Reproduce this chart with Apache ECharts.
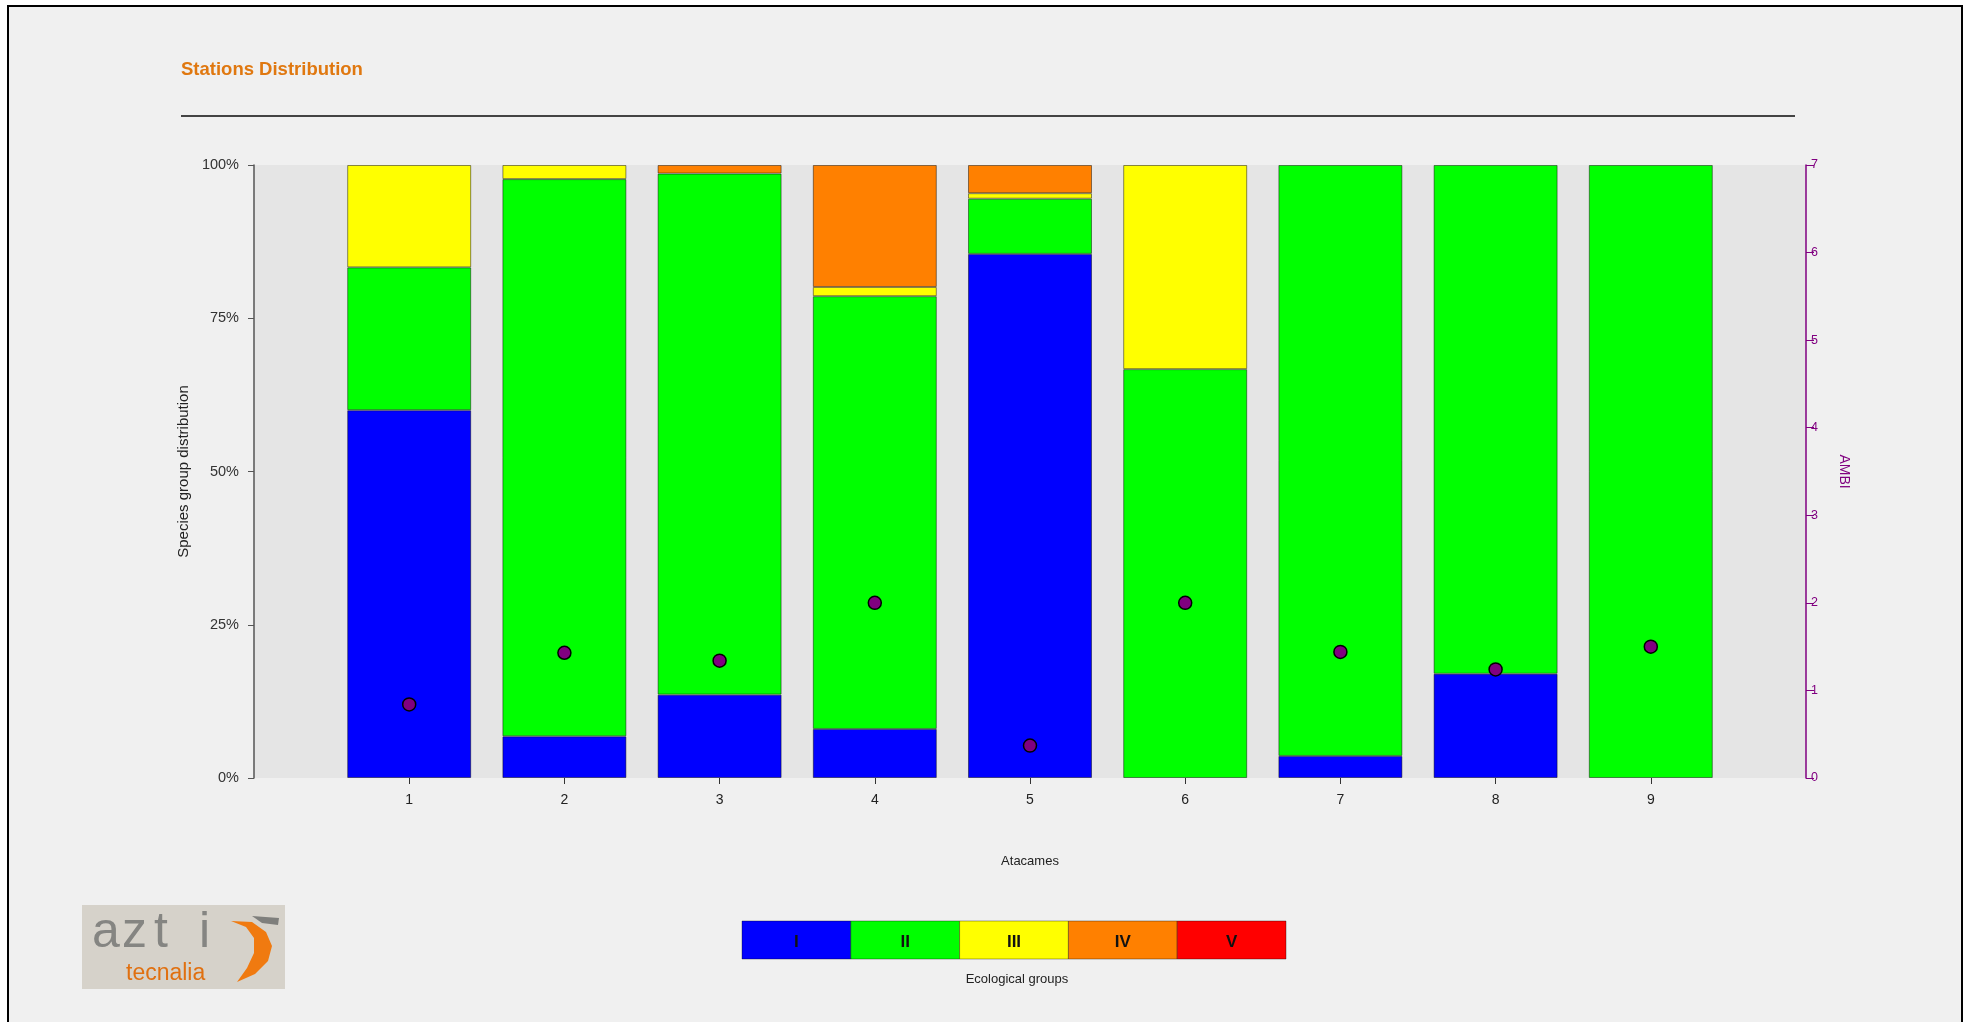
<!DOCTYPE html>
<html>
<head>
<meta charset="utf-8">
<script src="https://cdn.jsdelivr.net/npm/echarts@6/dist/echarts.min.js"></script>
<style>
  html, body { margin: 0; padding: 0; background: #fff; }
  #chart { width: 1971px; height: 1022px; }
</style>
</head>
<body>
<div id="chart"></div>
<script>
// 站点 1..9
var stations = ['1', '2', '3', '4', '5', '6', '7', '8', '9'];

// ecological groups, % of species per station
var groupI   = [60.0, 6.8, 13.6, 8.0, 85.5, 0, 3.6, 17.0, 0];
var groupII  = [23.3, 90.9, 85.0, 70.6, 9.0, 66.7, 96.4, 83.0, 100];
var groupIII = [16.7, 2.3, 0, 1.5, 0.9, 33.3, 0, 0, 0];
var groupIV  = [0, 0, 1.4, 19.9, 4.6, 0, 0, 0, 0];
var groupV   = [0, 0, 0, 0, 0, 0, 0, 0, 0];

// AMBI per station
var ambi = [0.84, 1.43, 1.34, 2.0, 0.37, 2.0, 1.44, 1.24, 1.5];

var groupNames  = ['I', 'II', 'III', 'IV', 'V'];
var groupColors = ['#0000ff', '#00ff00', '#ffff00', '#ff8000', '#ff0000'];
var yTicks = ['0%', '25%', '50%', '75%', '100%'];

var FONT = '"Liberation Sans", Arial, sans-serif';
var chart = echarts.init(document.getElementById('chart'));

// axis has an empty slot at each end
function pad(arr) {
  return ['-'].concat(arr).concat(['-']);
}
var axisCats = [''].concat(stations).concat(['']);

var groups = [groupI, groupII, groupIII, groupIV, groupV];
var series = groups.map(function (vals, i) {
  return {
    name: groupNames[i],
    type: 'bar',
    stack: 'eco',
    barWidth: 124,
    data: pad(vals.map(function (v) { return v === 0 ? '-' : v; })),
    itemStyle: { color: groupColors[i], borderColor: 'rgba(0,0,0,0.45)', borderWidth: 1 }
  };
});
series.push({
  name: 'AMBI',
  type: 'scatter',
  yAxisIndex: 1,
  symbolSize: 13,
  z: 5,
  data: pad(ambi),
  itemStyle: { color: '#800080', borderColor: '#000', borderWidth: 1.5, opacity: 1 }
});

// legend boxes
var legendEls = [];
var lx = 742, lw = 108.8;
groupNames.forEach(function (g, i) {
  legendEls.push({
    type: 'rect', shape: { x: lx + i * lw, y: 921, width: lw, height: 38 },
    style: { fill: groupColors[i], stroke: 'rgba(0,0,0,0.35)', lineWidth: 1 }
  });
  legendEls.push({
    type: 'text', x: lx + i * lw + lw / 2, y: 942,
    style: { text: g, font: 'bold 17px ' + FONT, fill: '#111', align: 'center', verticalAlign: 'middle' }
  });
});
legendEls.push({
  type: 'text', x: 1017, y: 979,
  style: { text: 'Ecological groups', font: '13px ' + FONT, fill: '#222', align: 'center', verticalAlign: 'middle' }
});

// logo letters
var logoEls = [{ type: 'rect', shape: { x: 82, y: 905, width: 203, height: 84 }, style: { fill: '#d6d2ca' } }];
[['a', 92], ['z', 122], ['t', 154], ['i', 199]].forEach(function (l) {
  logoEls.push({ type: 'text', x: l[1], y: 958, style: { text: l[0], font: '300 50px ' + FONT, fill: '#858582', verticalAlign: 'bottom' } });
});
logoEls.push({ type: 'text', x: 126, y: 974, style: { text: 'tecnalia', font: '23px ' + FONT, fill: '#e07010', verticalAlign: 'middle' } });
logoEls.push({
  type: 'polygon',
  shape: { points: [[231, 921], [252, 922], [266, 932], [272, 946], [268, 961], [255, 974], [237, 982], [247, 968], [254, 953], [254, 938], [246, 927]] },
  style: { fill: '#f07a10' }
});
logoEls.push({ type: 'polygon', shape: { points: [[252, 916], [279, 918], [278, 925], [262, 923]] }, style: { fill: '#7f7f7c' } });

var option = {
  backgroundColor: '#ffffff',
  animation: false,
  grid: {
    left: 254, right: 165, top: 165, bottom: 244,
    show: true, backgroundColor: '#e5e5e5', borderWidth: 0
  },
  xAxis: {
    type: 'category',
    data: axisCats,
    boundaryGap: false,
    name: 'Atacames',
    nameLocation: 'middle',
    nameGap: 77,
    nameTextStyle: { fontFamily: FONT, fontSize: 13, color: '#222' },
    axisLine: { show: false },
    axisTick: {
      show: true, length: 6,
      interval: function (idx, val) { return val !== ''; },
      lineStyle: { color: '#333' }
    },
    axisLabel: {
      interval: 0, margin: 15,
      fontFamily: FONT, fontSize: 14, color: '#222'
    },
    splitLine: { show: false }
  },
  yAxis: [{
    type: 'value',
    min: 0, max: 100, interval: 25,
    name: 'Species group distribution',
    nameLocation: 'middle',
    nameRotate: 90,
    nameGap: 63,
    nameTextStyle: { fontFamily: FONT, fontSize: 15, color: '#222' },
    axisLine: { show: true, lineStyle: { color: '#555', width: 1.5 } },
    axisTick: { show: true, length: 6, lineStyle: { color: '#555' } },
    axisLabel: {
      margin: 15, fontFamily: FONT, fontSize: 14.5, color: '#333',
      formatter: function (v) { return yTicks[v / 25]; }
    },
    splitLine: { show: false }
  }, {
    type: 'value',
    position: 'right',
    min: 0, max: 7, interval: 1,
    name: 'AMBI',
    nameLocation: 'middle',
    nameRotate: -90,
    nameGap: 31,
    nameTextStyle: { fontFamily: FONT, fontSize: 14, color: '#800080' },
    axisLine: { show: true, lineStyle: { color: '#800080', width: 1.5 } },
    axisTick: { show: true, length: 8, lineStyle: { color: '#800080' } },
    axisLabel: { margin: 5, fontFamily: FONT, fontSize: 12.5, color: '#800080' },
    splitLine: { show: false }
  }],
  graphic: [
    {
      type: 'rect', z: -10, silent: true,
      shape: { x: 8, y: 6, width: 1954, height: 1040 },
      style: { fill: '#f0f0f0', stroke: '#000', lineWidth: 2 }
    },
    {
      type: 'text', x: 181, y: 70,
      style: { text: 'Stations Distribution', font: 'bold 18.5px ' + FONT, fill: '#e07810', verticalAlign: 'middle' }
    },
    {
      type: 'line', shape: { x1: 181, y1: 116, x2: 1795, y2: 116 },
      style: { stroke: '#444', lineWidth: 2 }
    },
    { type: 'group', children: logoEls }
  ].concat(legendEls),
  series: series
};

chart.setOption(option);
</script>
</body>
</html>
